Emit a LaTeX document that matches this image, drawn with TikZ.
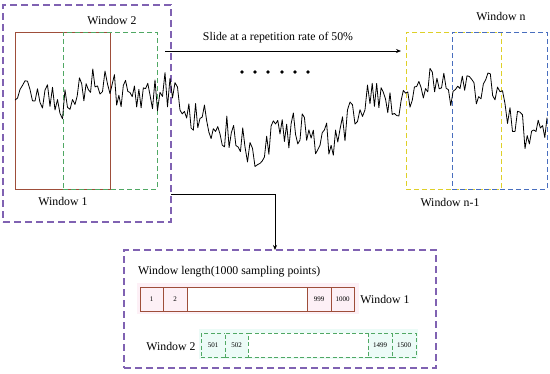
\documentclass[tikz,border=0pt]{standalone}
\usepackage{fontspec}
\setmainfont{Liberation Serif}
\usetikzlibrary{arrows.meta}
\definecolor{purp}{RGB}{128,98,178}
\definecolor{wred}{RGB}{158,78,58}
\definecolor{wgreen}{RGB}{80,168,100}
\definecolor{wyellow}{RGB}{222,208,40}
\definecolor{wblue}{RGB}{72,110,190}
\definecolor{pinkfill}{RGB}{253,240,246}
\definecolor{cyanfill}{RGB}{236,251,247}
\begin{document}
\begin{tikzpicture}[x=1pt,y=-1pt,
  box/.style={draw,inner sep=0pt,outer sep=0pt,anchor=north west},
  outerbox/.style={box,purp,line width=1.1pt,dash pattern=on 7pt off 4pt},
  winbox/.style={box,line width=0.8pt},
  dbox/.style={winbox,dash pattern=on 5pt off 3pt},
  halo/.style={box,draw=none},
  lbl/.style={font=\fontsize{11.8}{14}\selectfont,inner sep=0pt},
  cellA/.style={draw=wred,fill=pinkfill,line width=0.8pt,inner sep=0pt,minimum height=24pt,font=\fontsize{7}{8}\selectfont},
  cellB/.style={draw=wgreen,fill=cyanfill,line width=0.8pt,dash pattern=on 4pt off 2.5pt,inner sep=0pt,minimum height=24pt,font=\fontsize{7}{8}\selectfont},
  arr/.style={-{Stealth[length=5pt,width=4pt]},line width=0.7pt},
  sig/.style={line width=0.8pt,line join=round}]
\useasboundingbox (0,0) rectangle (550,373);
\pgfmathsetseed{11}
% windows
\node[outerbox,minimum width=168pt,minimum height=217pt] (big1) at (3,5) {};
\node[winbox,draw=wred,minimum width=95pt,minimum height=157pt] (w1) at (15,32) {};
\node[dbox,draw=wgreen,minimum width=94pt,minimum height=157pt] (w2) at (63,32) {};
\node[dbox,draw=wyellow,minimum width=95pt,minimum height=157pt] (wn1) at (406,32) {};
\node[dbox,draw=wblue,minimum width=95pt,minimum height=157pt] (wn) at (452,32) {};
% signal
\draw[sig] (15,100) \foreach \xa/\ya/\xb/\yb
  [evaluate=\xa as \ns using {int((\xb-\xa)/2.2)},
   evaluate=\xa as \xs using {\xa+(\xb-\xa)/\ns}] in
  {15/100/30/85, 30/85/45/95, 45/95/60/110, 60/110/75/95, 75/95/95/80,
   95/80/110/85, 110/85/130/100, 130/100/150/100, 150/100/165/90,
   165/90/180/105, 180/105/200/120, 200/120/220/130, 220/130/245/145,
   245/145/260/152, 260/152/280/132, 280/132/300/128, 300/128/320/140,
   320/140/340/137, 340/137/355/110, 355/110/370/95, 370/95/390/105,
   390/105/410/95, 410/95/430/85, 430/85/460/90, 460/90/495/90,
   495/90/510/115, 510/115/525/135, 525/135/547/118}
  { --plot[variable=\t,domain=\xs:\xb,samples=\ns]
      ({\t},{\ya+(\yb-\ya)*(\t-\xa)/(\xb-\xa)+18*rand}) };
% labels top
\node[lbl] (l2) at (112,20) {Window 2};
\node[lbl] (l1) at (63,201) {Window 1};
\node[lbl] (ln) at (501,16) {Window n};
\node[lbl] (ln1) at (450,202) {Window n-1};
\node[lbl] (slide) at (278,38) {Slide at a repetition rate of 50\%};
\coordinate (s0) at (165,51);
\coordinate (s1) at (401,51);
\draw[arr] (s0) -- (s1);
\foreach \i/\x in {1/242,2/255,3/268,4/282,5/295,6/308}
  \fill (\x,72) circle (1.8pt) coordinate (dot\i);
% bottom box
\node[outerbox,minimum width=312pt,minimum height=118pt] (big2) at (124,250) {};
\coordinate (k0) at (171,194);
\coordinate (k1) at (275,250);
\draw[arr] (k0) -| (k1);
\node[lbl,anchor=west] (wl) at (138,272) {Window length(1000 sampling points)};
% halos
\node[halo,fill=pinkfill,minimum width=222pt,minimum height=31pt] (h1) at (137,283) {};
\node[halo,fill=cyanfill,minimum width=219pt,minimum height=30pt] (h2) at (199,329) {};
% bar 1
\node[cellA,minimum width=23pt] (a1) at (151.5,299) {1};
\node[cellA,minimum width=24pt] (a2) at (175,299) {2};
\node[cellA,fill=white,minimum width=120pt] (a3) at (247,299) {};
\node[cellA,minimum width=24pt] (a4) at (319,299) {999};
\node[cellA,minimum width=23pt] (a5) at (342.5,299) {1000};
\node[lbl] (bw1) at (385,299) {Window 1};
% bar 2
\node[cellB,minimum width=24pt] (b1) at (213,345) {501};
\node[cellB,minimum width=23pt] (b2) at (236.5,345) {502};
\node[cellB,fill=white,minimum width=120pt] (b3) at (308,345) {};
\node[cellB,minimum width=24pt] (b4) at (380,345) {1499};
\node[cellB,minimum width=24pt] (b5) at (404,345) {1500};
\node[lbl] (bw2) at (171,346) {Window 2};
\end{tikzpicture}
\end{document}
